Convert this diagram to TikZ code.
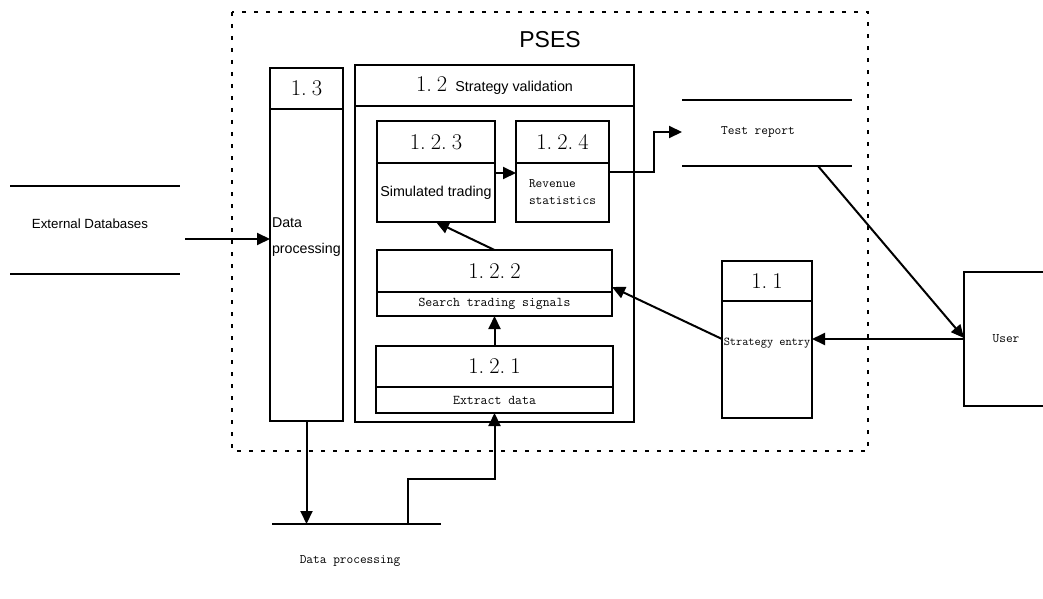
\documentclass[tikz,border=0pt]{standalone}
\usepackage{fontspec}
\setsansfont{Liberation Sans}
\usetikzlibrary{
  arrows.meta,
  positioning
}
\newcommand{\pnum}[1]{{\fontsize{22.5}{22}\selectfont #1}}

\begin{document}
\begin{tikzpicture}[x=1pt, y=-1pt,
    every node/.style={inner sep=0pt, outer sep=0pt, text centered},
    field/.style={draw, rectangle, line width=2pt},
    mono/.style={font=\ttfamily\fontsize{13}{16}\selectfont},
    sans/.style={font=\sffamily\fontsize{13.3}{16}\selectfont},
    flow/.style={line width=2pt, -{Triangle[length=13pt,width=12pt]}},
    store/.style={line width=2pt}]
\useasboundingbox (0,0) rectangle (1043,599);

% system frame
\draw[line width=2.8pt, dash pattern=on 4pt off 8pt] (232,12) rectangle (868,451);
\node[font=\sffamily\fontsize{23}{23}\selectfont] (pses) at (550,40) {PSES};

% 1.3
\node[field, anchor=north west, minimum width=73pt, minimum height=41pt] (p13h) at (270,68) {\pnum{1.\kern5pt3}};
\node[field, below=0pt of p13h, minimum width=73pt, minimum height=312pt] (p13) {};
\node[sans, font=\sffamily\fontsize{14.2}{26}\selectfont, align=left, anchor=west] (t13) at (272,237) {Data\\processing};

% 1.2
\node[field, anchor=north west, minimum width=279pt, minimum height=41pt] (p12h) at (355,65)
  {\pnum{1.\kern5pt2}\kern8pt{\sffamily\fontsize{14.3}{16}\selectfont Strategy validation}};
\node[field, below=0pt of p12h, minimum width=279pt, minimum height=316pt] (p12) {};

\node[field, anchor=north west, minimum width=118pt, minimum height=42pt] (p123h) at (377,121) {\pnum{1.\kern5pt2.\kern5pt3}};
\node[field, sans, font=\sffamily\fontsize{14.3}{16}\selectfont, below=0pt of p123h, minimum width=118pt, minimum height=59pt] (p123) {Simulated trading};

\node[field, anchor=north west, minimum width=93pt, minimum height=42pt] (p124h) at (516,121) {\pnum{1.\kern5pt2.\kern5pt4}};
\node[field, mono, font=\ttfamily\fontsize{13}{17}\selectfont, align=left, below=0pt of p124h, minimum width=93pt, minimum height=59pt] (p124) {Revenue\\statistics};

\node[field, anchor=north west, minimum width=235pt, minimum height=42pt] (p122h) at (377,250) {\pnum{1.\kern5pt2.\kern5pt2}};
\node[field, mono, font=\ttfamily\fontsize{13.4}{16}\selectfont, below=0pt of p122h, minimum width=235pt, minimum height=24pt] (p122) {Search trading signals};

\node[field, anchor=north west, minimum width=237pt, minimum height=41pt] (p121h) at (376,346) {\pnum{1.\kern5pt2.\kern5pt1}};
\node[field, mono, font=\ttfamily\fontsize{13.4}{16}\selectfont, below=0pt of p121h, minimum width=237pt, minimum height=26pt] (p121) {Extract data};

% 1.1
\node[field, anchor=north west, minimum width=90pt, minimum height=40pt] (p11h) at (722,261) {\pnum{1.\kern5pt1}};
\node[field, below=0pt of p11h, minimum width=90pt, minimum height=117pt] (p11) {};
\node[mono, font=\ttfamily\fontsize{12}{14}\selectfont] (t11) at (767,343) {Strategy entry};

% user
\node[field, anchor=north west, minimum width=100pt, minimum height=134pt] (usr) at (964,272) {};
\node[mono] (tusr) at (1006,339) {User};

% stores
\node[sans] (ext) at (90,224) {External Databases};
\draw[store] (10,186) -- (180,186);
\draw[store] (10,274) -- (180,274);
\coordinate (extout) at (185,239);

\node[mono] (trep) at (758,132) {Test report};
\draw[store] (682,100) -- (852,100);
\draw[store] (682,166) -- (852,166);
\coordinate (trin) at (682,132);
\coordinate (trout) at (818,166);

\node[mono] (dproc) at (350,561) {Data processing};
\draw[store] (272,524) -- (441,524);
\coordinate (dsout) at (408,524);

% flows
\draw[flow] (extout) -- (extout -| p13.west);
\draw[flow] (p13.south) -- (p13.south |- dsout);
\draw[flow] (dsout) -- ++(0,-45) -| (p121.south);
\draw[flow] (p121h.north) -- (p122.south);
\draw[flow] (p122h.north) -- (p123.south);
\draw[flow] ([yshift=-10pt]p123h.south east) -- ([yshift=-10pt]p124h.south west);
\draw[flow] ([yshift=-9pt]p124h.south east) -- ++(45,0) |- (trin);
\draw[flow] (trout) -- ([yshift=1pt]usr.west);
\draw[flow] (usr.west) -- (usr.west -| p11.east);
\draw[flow] (usr.west -| p11.west) -- ([yshift=5pt]p122h.south east);
\end{tikzpicture}
\end{document}
